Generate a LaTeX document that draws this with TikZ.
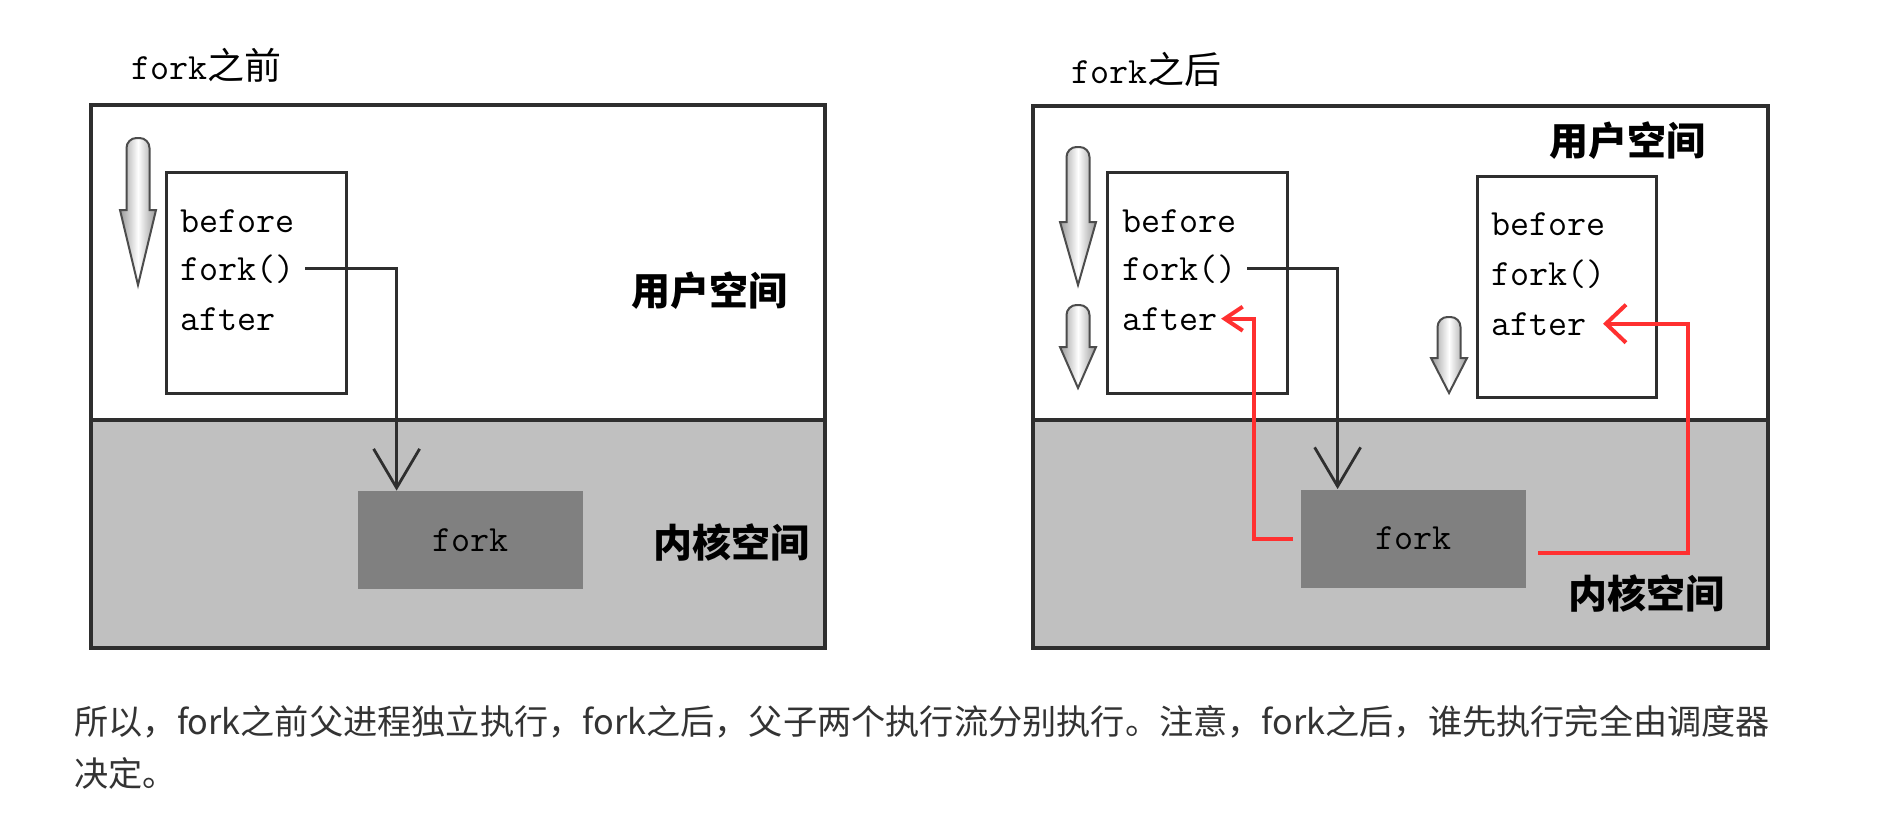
\documentclass[tikz,border=0pt]{standalone}
\usepackage{fontspec}
\newfontfamily\cjk{Noto Sans CJK SC}
\usetikzlibrary{arrows.meta}

\definecolor{edge}{HTML}{2E2E2E}
\definecolor{kfill}{HTML}{C0C0C0}
\definecolor{sfill}{HTML}{808080}
\definecolor{hot}{HTML}{FF3030}
\definecolor{ink}{HTML}{333333}

\begin{document}
\begin{tikzpicture}[x=0.5pt,y=-0.5pt,
  pane/.style={draw=edge,line width=1.6pt},
  codebox/.style={draw=edge,line width=1.5pt,fill=white,minimum width=90pt,minimum height=110.5pt,inner sep=0pt},
  code/.style={font=\ttfamily\fontsize{18.5}{20}\selectfont,anchor=base west,inner sep=0pt},
  sysbox/.style={fill=sfill,minimum width=112.5pt,minimum height=49pt,inner sep=0pt,font=\ttfamily\fontsize{18.5}{20}\selectfont},
  zone/.style={font=\cjk\bfseries\fontsize{19.5}{22}\selectfont,inner sep=0pt},
  flow/.style={draw=black!70,line width=1pt,left color=gray!80,right color=gray!80,middle color=white},
  call/.style={draw=edge,line width=1.4pt,-{Straight Barb[length=19.5pt,width=23pt,line width=1.4pt]}},
  back/.style={draw=hot,line width=2pt}]
\useasboundingbox (0,0) rectangle (1883,830);
\fill[white] (0,0) rectangle (1883,830);

\fill[kfill] (91,420) rectangle (825,648);
\draw[pane] (91,105) rectangle (825,648);
\draw[pane,line width=2pt] (91,420) -- (825,420);
\node[code] (tpre) at (131,79) {fork{\cjk 之前}};
\node[codebox] (par) at (256,282.5) {};
\node[code] (pbef) at (180,232) {before};
\node[code] (pfork) at (180,280) {fork()};
\node[code] (paft) at (180,330) {after};
\node[sysbox] (sys) at (470.5,540) {fork};
\node[zone] (user) at (709,291) {用户空间};
\node[zone] (kern) at (731,542) {内核空间};
\draw[call] ([xshift=5pt]pfork.east) -| ([xshift=19.5pt]sys.north west);

\fill[kfill] (1033,420) rectangle (1768,648);
\draw[pane] (1033,106) rectangle (1768,648);
\draw[pane,line width=2pt] (1033,420) -- (1768,420);
\node[code] (tpost) at (1071,83) {fork{\cjk 之后}};
\node[codebox] (par2) at (1197,282.5) {};
\node[code] (pbef2) at (1122,232) {before};
\node[code] (pfork2) at (1122,280) {fork()};
\node[code] (paft2) at (1122,330) {after};
\node[codebox,minimum width=89.5pt] (kid) at (1566.5,287) {};
\node[code] (kbef) at (1491,235) {before};
\node[code] (kfork) at (1491,285) {fork()};
\node[code] (kaft) at (1491,335) {after};
\node[sysbox] (sys2) at (1413.5,538.5) {fork};
\node[zone] (user2) at (1627,141) {用户空间};
\node[zone] (kern2) at (1646,593) {内核空间};
\draw[call] ([xshift=5pt]pfork2.east) -| ([xshift=18.5pt]sys2.north west);
\draw[back,-{Straight Barb[length=9pt,width=12pt,line width=2pt]}] ([xshift=-4pt]sys2.west) -| ([xshift=18pt]paft2.east) -- ([xshift=1.5pt]paft2.east);
\draw[back,-{Straight Barb[length=10pt,width=19pt,line width=2pt]}] ([xshift=6pt,yshift=-7pt]sys2.east) -| ([xshift=50.5pt]kaft.east) -- ([xshift=8pt]kaft.east);

\foreach \cx/\ty/\hy/\py in {138/138/210/285,1078/147/222/285,1078/305/347/388,1449/317/358/393}
  \path[flow] ({\cx-11.5},\hy) [rounded corners=5pt] -- ({\cx-11.5},\ty) -- ({\cx+11.5},\ty) [sharp corners] -- ({\cx+11.5},\hy) -- ({\cx+18},\hy) -- (\cx,\py) -- ({\cx-18},\hy) -- cycle;

\node[anchor=north west,inner sep=0pt,align=left,text=ink,font=\cjk\fontsize{17.1}{25.75}\selectfont] (note) at (74,705) {所以，fork之前父进程独立执行，fork之后，父子两个执行流分别执行。注意，fork之后，谁先执行完全由调度器\\决定。};
\end{tikzpicture}
\end{document}
